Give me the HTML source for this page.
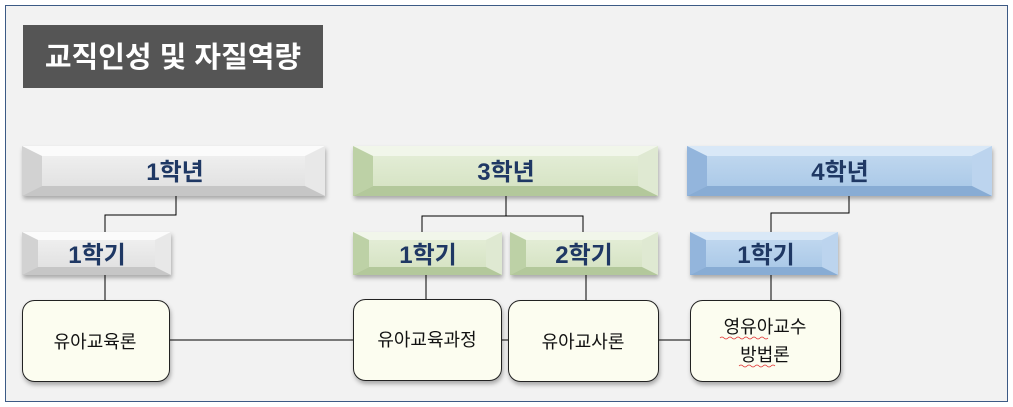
<!DOCTYPE html>
<html><head><meta charset="utf-8"><style>
html,body{margin:0;padding:0;background:#fff;}
svg{display:block;}
text{font-family:"Liberation Sans","Noto Sans CJK KR",sans-serif;}
</style></head><body>
<svg width="1013" height="407" viewBox="0 0 1013 407" xmlns="http://www.w3.org/2000/svg">
<defs>
<filter id="sh" x="-10%" y="-10%" width="130%" height="140%"><feDropShadow dx="1" dy="3" stdDeviation="2" flood-color="#000" flood-opacity="0.3"/></filter>
<linearGradient id="gG" x1="0" y1="0" x2="0" y2="1"><stop offset="0" stop-color="#f2f2f2"/><stop offset="1" stop-color="#dedede"/></linearGradient>
<linearGradient id="gN" x1="0" y1="0" x2="0" y2="1"><stop offset="0" stop-color="#e6efda"/><stop offset="1" stop-color="#d3e1c0"/></linearGradient>
<linearGradient id="gB" x1="0" y1="0" x2="0" y2="1"><stop offset="0" stop-color="#c4daf0"/><stop offset="1" stop-color="#a6c6e6"/></linearGradient>
</defs>
<rect x="0" y="0" width="1013" height="407" fill="#fff"/>
<rect x="5.5" y="5.5" width="1002" height="396" fill="#f2f2f2" stroke="#3c5a85" stroke-width="1"/>
<rect x="23" y="25" width="300" height="63" fill="#555555"/>
<text x="173" y="67" font-size="29" font-weight="bold" fill="#fff" text-anchor="middle">교직인성 및 자질역량</text>

<g stroke="#000" stroke-width="1" fill="none">
<path d="M176 196V215H105V232"/>
<path d="M506 196V216H422V232M506 216H583V232"/>
<path d="M849 196V213H771V232"/>
<path d="M105 275V300M426 275V300M586 275V300M771 275V300"/>
<path d="M169 340H690"/>
</g>

<g filter="url(#sh)">
<rect x="22" y="146" width="303" height="50" fill="url(#gG)"/>
<polygon points="22,146 325,146 305,156 42,156" fill="#fbfbfb"/>
<polygon points="22,146 42,156 42,186 22,196" fill="#d2d2d2"/>
<polygon points="325,146 305,156 305,186 325,196" fill="#e8e8e8"/>
<polygon points="22,196 42,186 305,186 325,196" fill="#c6c6c6"/>
<rect x="353" y="146" width="305" height="50" fill="url(#gN)"/>
<polygon points="353,146 658,146 638,156 373,156" fill="#f1f6ea"/>
<polygon points="353,146 373,156 373,186 353,196" fill="#bdd1a6"/>
<polygon points="658,146 638,156 638,186 658,196" fill="#dfe9d2"/>
<polygon points="353,196 373,186 638,186 658,196" fill="#b3c89b"/>
<rect x="687" y="146" width="305" height="50" fill="url(#gB)"/>
<polygon points="687,146 992,146 972,156 707,156" fill="#d9e8f7"/>
<polygon points="687,146 707,156 707,186 687,196" fill="#93b5dc"/>
<polygon points="992,146 972,156 972,186 992,196" fill="#bcd4ee"/>
<polygon points="687,196 707,186 972,186 992,196" fill="#88acd4"/>

<rect x="22" y="232" width="149" height="43" fill="url(#gG)"/>
<polygon points="22,232 171,232 155,240 38,240" fill="#fbfbfb"/>
<polygon points="22,232 38,240 38,267 22,275" fill="#d2d2d2"/>
<polygon points="171,232 155,240 155,267 171,275" fill="#e8e8e8"/>
<polygon points="22,275 38,267 155,267 171,275" fill="#c6c6c6"/>

<rect x="353" y="232" width="149" height="43" fill="url(#gN)"/>
<polygon points="353,232 502,232 486,240 369,240" fill="#f1f6ea"/>
<polygon points="353,232 369,240 369,267 353,275" fill="#bdd1a6"/>
<polygon points="502,232 486,240 486,267 502,275" fill="#dfe9d2"/>
<polygon points="353,275 369,267 486,267 502,275" fill="#b3c89b"/>

<rect x="510" y="232" width="148" height="43" fill="url(#gN)"/>
<polygon points="510,232 658,232 642,240 526,240" fill="#f1f6ea"/>
<polygon points="510,232 526,240 526,267 510,275" fill="#bdd1a6"/>
<polygon points="658,232 642,240 642,267 658,275" fill="#dfe9d2"/>
<polygon points="510,275 526,267 642,267 658,275" fill="#b3c89b"/>

<rect x="690" y="232" width="148" height="43" fill="url(#gB)"/>
<polygon points="690,232 838,232 822,240 706,240" fill="#d9e8f7"/>
<polygon points="690,232 706,240 706,267 690,275" fill="#93b5dc"/>
<polygon points="838,232 822,240 822,267 838,275" fill="#bcd4ee"/>
<polygon points="690,275 706,267 822,267 838,275" fill="#88acd4"/>

<g fill="#fcfdf0" stroke="#222" stroke-width="1">
<rect x="22.5" y="300.5" width="147" height="81" rx="12"/>
<rect x="353.5" y="299.5" width="148" height="81" rx="12"/>
<rect x="508.5" y="300.5" width="150" height="81" rx="12"/>
<rect x="690.5" y="300.5" width="150" height="81" rx="12"/>
</g>
</g>

<g font-size="24" font-weight="bold" fill="#1f3864" text-anchor="middle">
<text x="175" y="180">1학년</text>
<text x="506" y="180">3학년</text>
<text x="840" y="180">4학년</text>
<text x="97" y="263">1학기</text>
<text x="428" y="263">1학기</text>
<text x="584" y="263">2학기</text>
<text x="766" y="263">1학기</text>
</g>
<g font-size="18" fill="#111" text-anchor="middle">
<text x="95" y="348">유아교육론</text>
<text x="427" y="346">유아교육과정</text>
<text x="583" y="348">유아교사론</text>
<text x="765" y="333">영유아교수</text>
<text x="765" y="361">방법론</text>
</g>
<path d="M720 338q2-2 4 0t4 0t4 0t4 0t4 0t4 0t4 0t4 0t4 0t4 0t4 0t4 0M739 366q2-2 4 0t4 0t4 0t4 0t4 0t4 0t4 0t4 0t4 0" stroke="#e03030" stroke-width="0.8" fill="none"/>
</svg>
</body></html>
